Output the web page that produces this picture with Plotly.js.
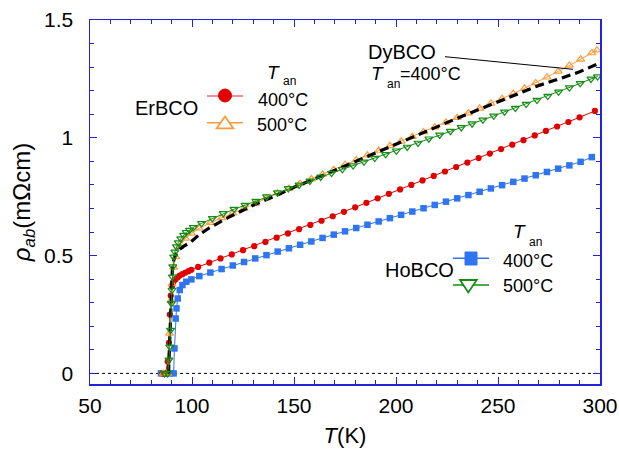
<!DOCTYPE html>
<html>
<head>
<meta charset="utf-8">
<script src="https://cdn.plot.ly/plotly-3.0.1.min.js"></script>
<style>html,body{margin:0;padding:0;background:#fff}#plot{width:619px;height:452px}</style>
</head>
<body>
<div id="plot"></div>
<script>
// ErBCO, Tan = 400°C (red circles)
const erb400_T = [85.5, 87.0, 88.1, 88.7, 89.1, 89.6, 90.2, 91.0, 92.0, 93.0, 94.0, 95.3, 96.8, 98.3, 99.7, 103.0, 108.5, 114.0, 119.5, 125.0, 130.5, 136.0, 141.5, 147.0, 152.5, 158.0, 163.5, 169.0, 174.5, 180.0, 185.5, 191.0, 196.5, 202.0, 207.5, 213.0, 218.5, 224.0, 229.5, 235.0, 240.5, 246.0, 251.5, 257.0, 262.5, 268.0, 273.5, 279.0, 284.5, 290.0, 297.5];
const erb400_R = [0, 0, 0.05, 0.13, 0.25, 0.33, 0.37, 0.39, 0.40, 0.408, 0.415, 0.421, 0.428, 0.434, 0.44, 0.452, 0.47, 0.488, 0.505, 0.523, 0.540, 0.558, 0.576, 0.594, 0.612, 0.630, 0.648, 0.667, 0.686, 0.705, 0.724, 0.743, 0.762, 0.781, 0.800, 0.819, 0.838, 0.857, 0.876, 0.895, 0.914, 0.933, 0.952, 0.971, 0.990, 1.010, 1.029, 1.048, 1.067, 1.087, 1.114];

// ErBCO, Tan = 500°C (orange open triangles)
const erb500_T = [86.0, 88.0, 89.0, 89.7, 90.2, 91.0, 92.0, 94.0, 96.8, 99.7, 103.6, 109.0, 114.5, 120.0, 125.5, 131.0, 136.5, 142.0, 147.5, 153.0, 158.5, 164.0, 169.5, 175.0, 180.5, 186.0, 191.5, 197.0, 202.5, 208.0, 213.5, 219.0, 224.5, 230.0, 235.5, 241.0, 246.5, 252.0, 257.5, 263.0, 268.5, 274.0, 279.5, 285.0, 290.5, 296.0, 298.5];
const erb500_R = [0, 0, 0.17, 0.31, 0.38, 0.45, 0.495, 0.538, 0.573, 0.594, 0.616, 0.640, 0.660, 0.680, 0.700, 0.720, 0.745, 0.765, 0.785, 0.805, 0.825, 0.845, 0.865, 0.886, 0.906, 0.926, 0.946, 0.966, 0.985, 1.005, 1.025, 1.045, 1.065, 1.085, 1.105, 1.125, 1.146, 1.166, 1.187, 1.210, 1.233, 1.257, 1.282, 1.307, 1.333, 1.360, 1.372];

// HoBCO, Tan = 400°C (blue squares)
const hob400_T = [84.8, 87.0, 89.0, 91.0, 91.4, 92.0, 92.4, 93.0, 94.0, 95.3, 97.2, 99.7, 103.6, 109.0, 114.5, 120.0, 125.5, 131.0, 136.5, 142.0, 147.5, 153.0, 158.5, 164.0, 169.5, 175.0, 180.5, 186.0, 191.5, 197.0, 202.5, 208.0, 213.5, 219.0, 224.5, 230.0, 235.5, 241.0, 246.5, 252.0, 257.5, 263.0, 268.5, 274.0, 279.5, 285.0, 290.5, 296.0];
const hob400_R = [0, 0, 0, 0, 0.106, 0.233, 0.276, 0.318, 0.354, 0.375, 0.389, 0.399, 0.413, 0.428, 0.443, 0.458, 0.473, 0.488, 0.502, 0.517, 0.531, 0.546, 0.560, 0.575, 0.589, 0.603, 0.617, 0.631, 0.645, 0.659, 0.673, 0.687, 0.701, 0.715, 0.729, 0.743, 0.757, 0.771, 0.785, 0.799, 0.813, 0.827, 0.841, 0.855, 0.869, 0.883, 0.898, 0.918];

// HoBCO, Tan = 500°C (green open down-triangles)
const hob500_T = [86.5, 88.1, 88.7, 89.1, 89.5, 89.9, 90.2, 90.4, 90.6, 91.0, 91.6, 92.4, 93.3, 94.5, 95.9, 97.2, 98.8, 100.7, 104.7, 110.0, 115.3, 120.6, 126.0, 131.3, 136.6, 141.9, 147.2, 152.5, 157.8, 163.1, 168.4, 173.7, 179.0, 184.3, 189.6, 194.9, 200.2, 205.5, 210.8, 216.1, 221.4, 226.7, 232.0, 237.3, 242.6, 247.9, 253.2, 258.5, 263.8, 269.1, 274.4, 279.7, 285.0, 290.3, 295.6, 298.8];
const hob500_R = [0, 0, 0.057, 0.113, 0.184, 0.297, 0.354, 0.41, 0.453, 0.495, 0.516, 0.538, 0.555, 0.572, 0.587, 0.599, 0.608, 0.620, 0.637, 0.658, 0.679, 0.697, 0.714, 0.731, 0.750, 0.767, 0.785, 0.800, 0.817, 0.834, 0.850, 0.866, 0.882, 0.898, 0.914, 0.930, 0.945, 0.961, 0.978, 0.996, 1.012, 1.028, 1.044, 1.060, 1.076, 1.093, 1.110, 1.126, 1.143, 1.160, 1.177, 1.195, 1.213, 1.231, 1.250, 1.260];

// DyBCO, Tan = 400°C (black dashed line)
const dyb400_T = [88.5, 89.2, 89.7, 90.3, 91.0, 92.0, 94.0, 96.0, 99.0, 103.0, 108.0, 113.0, 117.8, 124.0, 130.0, 140.0, 150.0, 160.0, 170.0, 180.0, 190.0, 200.0, 210.0, 220.0, 230.0, 240.0, 250.0, 262.0, 270.0, 280.0, 290.0, 300.0];
const dyb400_R = [0, 0.15, 0.33, 0.43, 0.48, 0.505, 0.527, 0.540, 0.555, 0.585, 0.615, 0.640, 0.662, 0.688, 0.714, 0.750, 0.790, 0.825, 0.862, 0.900, 0.937, 0.975, 1.012, 1.048, 1.083, 1.118, 1.152, 1.195, 1.222, 1.250, 1.280, 1.318];

const xTickVals = [50, 100, 150, 200, 250, 300];
const yTickVals = [0, 0.5, 1, 1.5];
const yTickText = ['0', '0.5', '1', '1.5'];

const cRed = '#e00000', cOrange = '#ff9a3c', cBlue = '#2f74f0', cGreen = '#148c14', cAxis = '#2323d6';
const FONT = 'Liberation Sans, Arial, Helvetica, sans-serif';

const traces = [
  {x: hob400_T, y: hob400_R, mode: 'lines+markers', line: {color: cBlue, width: 1}, marker: {symbol: 'square', size: 6.5, color: cBlue}},
  {x: erb400_T, y: erb400_R, mode: 'lines+markers', line: {color: cRed, width: 1}, marker: {symbol: 'circle', size: 6.2, color: cRed}},
  {x: erb500_T, y: erb500_R, mode: 'lines+markers', line: {color: cOrange, width: 1}, marker: {symbol: 'triangle-up-open', size: 7, color: cOrange, line: {width: 1.2}}},
  {x: dyb400_T, y: dyb400_R, mode: 'lines', line: {color: '#000', width: 3.2, dash: '9px,5px'}},
  {x: hob500_T, y: hob500_R, mode: 'lines+markers', line: {color: cGreen, width: 1}, marker: {symbol: 'triangle-down-open', size: 7, color: cGreen, line: {width: 1.2}}}
];

const L = 90, R = 600, TOP = 20, B = 384, W = R - L, H = B - TOP;
const px = v => (v - L) / W;
const py = v => (B - v) / H;

function ann(text, x, y, size, xanchor) {
  return {text: text, x: px(x), y: py(y), xref: 'paper', yref: 'paper', showarrow: false, borderpad: 0,
    xanchor: xanchor || 'center', yanchor: 'middle', font: {family: FONT, size: size, color: '#000'}};
}

const annotations = [
  ann('ErBCO', 166, 108, 20),
  ann('<i>T</i>', 281, 72, 19, 'right'),
  ann('an', 282, 81.5, 12, 'left'),
  ann('400°C', 283, 100, 18),
  ann('500°C', 282, 125, 18),
  ann('HoBCO', 419, 270, 20),
  ann('<i>T</i>', 527, 232, 19, 'right'),
  ann('an', 528, 241.5, 12, 'left'),
  ann('400°C', 528, 260.5, 18),
  ann('500°C', 528, 286, 18),
  ann('DyBCO', 402, 52, 20),
  ann('<i>T</i>', 385, 73, 19, 'right'),
  ann('an', 386, 84, 12, 'left'),
  ann('=400°C', 399, 74, 18, 'left')
];

function rectShape(x0, y0, x1, y1, type, color, fill, w) {
  return {type: type, xref: 'paper', yref: 'paper', x0: px(x0), x1: px(x1), y0: py(y1), y1: py(y0),
    line: {color: color, width: w || 1}, fillcolor: fill || 'rgba(0,0,0,0)'};
}
function pathShape(pts, color, fill, w) {
  const d = pts.map((p, i) => (i ? 'L' : 'M') + px(p[0]) + ',' + py(p[1])).join(' ') + ' Z';
  return {type: 'path', xref: 'paper', yref: 'paper', path: d, line: {color: color, width: w || 1}, fillcolor: fill || 'rgba(0,0,0,0)'};
}
function lineShape(x0, y0, x1, y1, color, w) {
  return {type: 'line', xref: 'paper', yref: 'paper', x0: px(x0), y0: py(y0), x1: px(x1), y1: py(y1), line: {color: color, width: w || 1}};
}

const shapes = [
  {type: 'line', xref: 'paper', yref: 'y', x0: 0, x1: 1, y0: 0, y1: 0, line: {color: '#000', width: 1, dash: 'dot'}, layer: 'below'},
  lineShape(207, 96, 243, 96, '#ee6b6b', 1.5),
  rectShape(218.5, 89, 231.5, 102, 'circle', cRed, cRed, 1),
  lineShape(207, 122.7, 243, 122.7, cOrange, 1.5),
  pathShape([[225, 116.5], [233.3, 128.3], [216.7, 128.3]], cOrange, '#fff', 1.8),
  lineShape(453, 258.3, 489, 258.3, cBlue, 1.5),
  rectShape(465, 252, 477, 265, 'rect', cBlue, cBlue, 1),
  lineShape(453, 285, 489, 285, cGreen, 1.5),
  pathShape([[460, 280], [476.7, 280], [468.3, 292.5]], cGreen, '#fff', 1.8),
  lineShape(445, 56.7, 573, 69.3, '#000', 1)
];

const axisCommon = {
  showline: true, linecolor: cAxis, linewidth: 1.5, mirror: 'ticks',
  ticks: 'inside', tickcolor: cAxis, tickwidth: 1, ticklen: 7,
  showgrid: false, zeroline: false,
  tickfont: {family: FONT, size: 21, color: '#000'}
};

const layout = {
  width: 619, height: 452,
  margin: {l: L, r: 619 - R, t: TOP, b: 452 - B},
  paper_bgcolor: '#fff', plot_bgcolor: '#fff',
  showlegend: false,
  xaxis: Object.assign({}, axisCommon, {
    range: [50, 300], tickmode: 'array', tickvals: xTickVals, ticktext: xTickVals.map(String),
    ticklabelstandoff: 2,
    minor: {dtick: 10, tick0: 50, ticks: 'inside', ticklen: 4, tickcolor: cAxis, tickwidth: 1},
    title: {text: '<i>T</i>(K)', font: {family: FONT, size: 22, color: '#000'}, standoff: 12}
  }),
  yaxis: Object.assign({}, axisCommon, {
    range: [-0.045, 1.5], tickmode: 'array', tickvals: yTickVals, ticktext: yTickText,
    ticklabelstandoff: 11,
    minor: {dtick: 0.1, tick0: 0, ticks: 'inside', ticklen: 4, tickcolor: cAxis, tickwidth: 1},
    title: {text: '<i>ρ</i><sub><i>ab</i></sub>(mΩcm)', font: {family: FONT, size: 24, color: '#000'}, standoff: 6}
  }),
  annotations: annotations,
  shapes: shapes
};

Plotly.newPlot('plot', traces, layout, {displayModeBar: false, staticPlot: true});
</script>
</body>
</html>
